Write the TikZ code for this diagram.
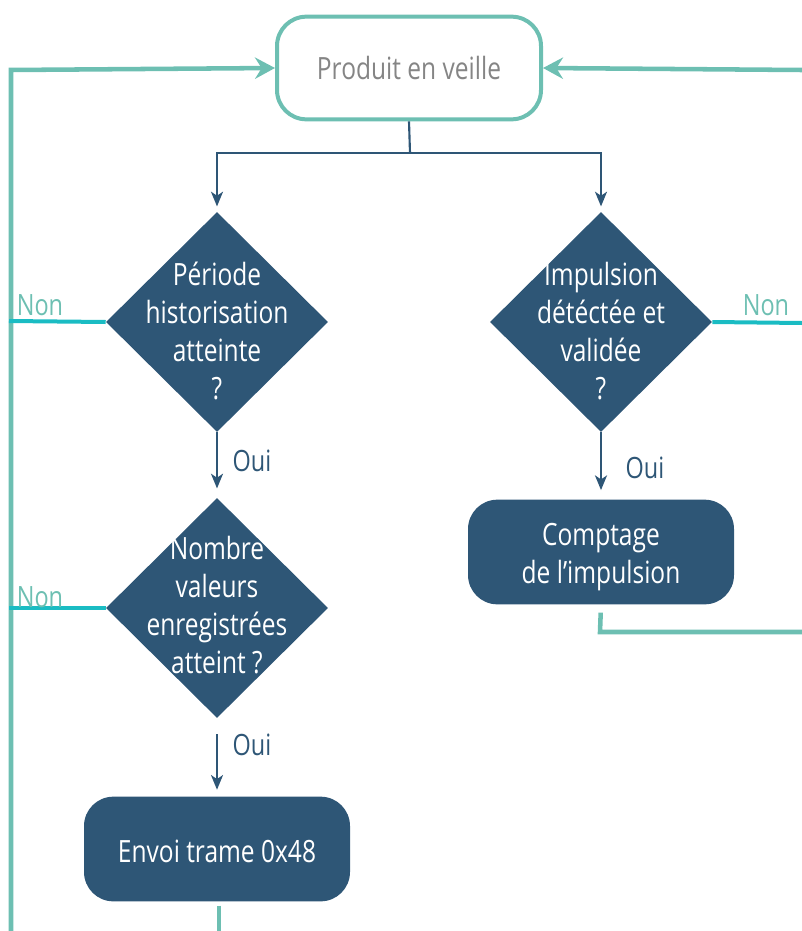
\documentclass[tikz,border=0pt]{standalone}
\usepackage{fontspec}
\setmainfont[FakeStretch=0.8]{Open Sans}
\usetikzlibrary{shapes.geometric,arrows.meta}
\definecolor{dblue}{HTML}{2E5676}
\definecolor{tealc}{HTML}{6DBFB2}
\definecolor{cyanc}{HTML}{1ABCC3}
\definecolor{greyt}{HTML}{858585}
\tikzset{
  dia/.style={diamond,fill=dblue,inner sep=0pt,minimum width=166.5pt,minimum height=165pt},
  diatext/.style={text=white,align=center,font=\fontsize{23}{28.5}\selectfont},
  procbox/.style={rectangle,rounded corners=22pt,fill=dblue,text=white,align=center,
    minimum width=199.5pt,minimum height=78.5pt,font=\fontsize{23}{28.5}\selectfont},
  startbox/.style={rectangle,rounded corners=22pt,draw=tealc,line width=3pt,text=greyt,
    minimum width=198pt,minimum height=77pt,font=\fontsize{23}{28.5}\selectfont},
  blu/.style={draw=dblue,line width=1.6pt},
  blutip/.style={-{Stealth[length=11pt,width=9pt,inset=3pt]}},
  loop/.style={draw=tealc,line width=3.4pt},
  looptip/.style={-{Stealth[length=15pt,width=16pt,inset=5pt]}},
  nonline/.style={draw=cyanc,line width=3pt},
  nonlab/.style={text=tealc,font=\fontsize{22}{24}\selectfont,inner sep=0pt},
  ouilab/.style={text=dblue,font=\fontsize{22}{24}\selectfont,inner sep=0pt}
}
\begin{document}
\begin{tikzpicture}[x=0.75pt,y=-0.75pt]
\useasboundingbox (0,0) rectangle (802,931);
% nodes
\node[startbox] (top) at (409,68) {Produit en veille};
\node[dia] (d1) at (217,322) {};
\node[diatext] (t1) at ([yshift=-6.5pt]d1.center) {Période\\historisation\\atteinte\\?};
\node[dia] (d2) at (217,608) {};
\node[diatext] (t2) at ([yshift=2pt]d2.center) {Nombre\\valeurs\\enregistrées\\atteint ?};
\node[dia] (d3) at (601,322) {};
\node[diatext] (t3) at ([yshift=-6.5pt]d3.center) {Impulsion\\détéctée et\\validée\\?};
\node[procbox] (envoi) at (217,849) {};
\node[text=white,font=\fontsize{23}{28.5}\selectfont] (envoit) at ([yshift=-1.5pt]envoi.center) {Envoi trame 0x48};
\node[procbox] (compt) at (601,552) {};
\node[text=white,align=center,font=\fontsize{23}{28.5}\selectfont] (comptt) at ([yshift=-4pt]compt.center) {Comptage\\de l’impulsion};
% coordinates
\coordinate (split) at (410,153);
\coordinate (lb) at (11,931);
\coordinate (lt) at (11,70);
\coordinate (rt) at (802,70);
\coordinate (n1) at (9,321);
\coordinate (n2) at (9,613);
\coordinate (n3) at (802,323);
\coordinate (eb) at (219,931);
\coordinate (cb) at (600,632);
\coordinate (cr) at (802,632);
% blue connectors
\draw[blu] (top.south) -- (split);
\draw[blu,blutip,shorten >=4pt] (split) -| (d1.north);
\draw[blu,blutip,shorten >=4pt] (split) -| (d3.north);
\draw[blu,blutip,shorten >=7pt] (d1.south) -- (d2.north);
\draw[blu,blutip,shorten <=12pt,shorten >=5pt] (d2.south) -- (envoi.north);
\draw[blu,blutip,shorten >=7pt] (d3.south) -- (compt.north);
% loops
\draw[loop,looptip] (lb) -- (lt) -- (top.west);
\draw[loop,looptip] (rt) -- (top.east);
\draw[loop,shorten <=3pt] (envoi.south -| eb) -- (eb);
\draw[loop,shorten <=6pt] (compt.south) -- (cb) -- (cr);
% non lines
\draw[nonline] (d1.west) -- (n1);
\draw[nonline] (d2.west) -- (d2.west -| n2);
\draw[nonline] (d3.east) -- (n3);
% labels
\node[nonlab] (non1) at (40,305) {Non};
\node[nonlab] (non2) at (40,597) {Non};
\node[nonlab] (non3) at (766,305) {Non};
\node[ouilab] (oui1) at (252,461) {Oui};
\node[ouilab] (oui2) at (252,745) {Oui};
\node[ouilab] (oui3) at (645,468) {Oui};
\end{tikzpicture}
\end{document}
